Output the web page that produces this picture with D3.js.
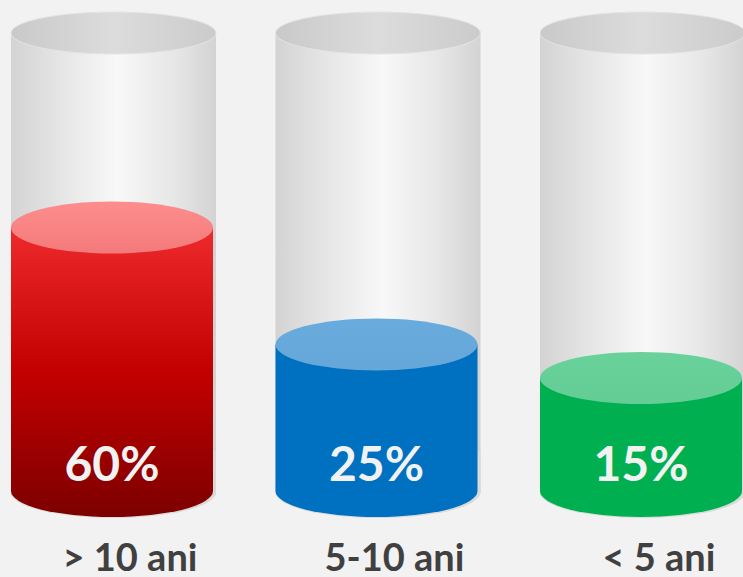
<!DOCTYPE html>
<html><head><meta charset="utf-8">
<script src="https://cdn.jsdelivr.net/npm/d3@7/dist/d3.min.js"></script>
<style>html,body{margin:0;padding:0;background:#f2f2f2;overflow:hidden}</style>
</head><body>
<svg id="c" width="743" height="577"></svg>
<script>
const categories = ["> 10 ani", "5-10 ani", "< 5 ani"];
const values = [60, 25, 15];
const valueLabels = ["60%", "25%", "15%"];
const sideColors = [["#ee2a2c", "#c30000", "#7c0000"], ["#0070c0", "#0070c0", "#0070c0"], ["#00b050", "#00b050", "#00b050"]];
const topColors = [["#fd8d8d", "#f47a7a"], ["#68abdc", "#64a7d8"], ["#69d29b", "#63cd95"]];

const W = 743, H = 577;
const svg = d3.select("#c");
const defs = svg.append("defs");

const x = d3.scalePoint().domain(categories).range([112, 641]);
const y = d3.scaleLinear().domain([0, 100]).range([428, 94]);
const base = 491, frameTop = 33, rx = 101, ryF = 21, ry = 26;

svg.append("rect").attr("width", W).attr("height", H).attr("fill", "#f2f2f2");

// gradients
const gb = defs.append("linearGradient").attr("id", "grayBody").attr("x1", 0).attr("x2", 1).attr("y1", 0).attr("y2", 0);
[[0, "#d3d3d3"], [0.25, "#e6e6e6"], [0.52, "#f8f8f8"], [0.8, "#e6e6e6"], [1, "#d3d3d3"]].forEach(s => gb.append("stop").attr("offset", s[0]).attr("stop-color", s[1]));
const gt = defs.append("linearGradient").attr("id", "grayTop").attr("x1", 0).attr("x2", 1).attr("y1", 0).attr("y2", 0);
[[0, "#c9c9c9"], [0.5, "#dcdcdc"], [1, "#cbcbcb"]].forEach(s => gt.append("stop").attr("offset", s[0]).attr("stop-color", s[1]));

categories.forEach((c, i) => {
  const s = defs.append("linearGradient").attr("id", "side" + i).attr("x1", 0).attr("x2", 0).attr("y1", 0).attr("y2", 1);
  s.append("stop").attr("offset", 0).attr("stop-color", sideColors[i][0]);
  s.append("stop").attr("offset", 0.5).attr("stop-color", sideColors[i][1]);
  s.append("stop").attr("offset", 1).attr("stop-color", sideColors[i][2]);
  const t = defs.append("linearGradient").attr("id", "top" + i).attr("x1", 0).attr("x2", 0).attr("y1", 0).attr("y2", 1);
  t.append("stop").attr("offset", 0).attr("stop-color", topColors[i][0]);
  t.append("stop").attr("offset", 1).attr("stop-color", topColors[i][1]);
});

function bodyPath(cx, r, yTop, yBot, ryy) {
  return `M${cx - r},${yTop} L${cx - r},${yBot} A${r},${ryy} 0 0 0 ${cx + r},${yBot} L${cx + r},${yTop} Z`;
}

const g = svg.selectAll("g.cyl").data(categories).join("g").attr("class", "cyl");

// frame (gray) cylinder
g.append("path")
  .attr("d", (d) => bodyPath(x(d) + 1.5, rx + 1.5, frameTop, base + 1, ry))
  .attr("fill", "url(#grayBody)");
g.append("path")
  .attr("d", (d) => bodyPath(x(d) + 1.5, rx + 1.5, base - 40, base + 1, ry))
  .attr("fill", "#dadada");
g.append("ellipse")
  .attr("cx", d => x(d) + 1.5).attr("cy", frameTop).attr("rx", rx + 1.5).attr("ry", ryF)
  .attr("fill", "url(#grayTop)").attr("stroke", "#e4e4e4").attr("stroke-width", 1);

// filled cylinder
g.append("path")
  .attr("d", (d, i) => bodyPath(x(d), rx, y(values[i]), base, ry))
  .attr("fill", (d, i) => `url(#side${i})`);
g.append("ellipse")
  .attr("cx", d => x(d)).attr("cy", (d, i) => y(values[i])).attr("rx", rx).attr("ry", ry)
  .attr("fill", (d, i) => `url(#top${i})`);

// value labels
g.append("text")
  .attr("x", d => x(d)).attr("y", 481)
  .attr("text-anchor", "middle")
  .attr("font-family", "Lato, 'Open Sans', sans-serif").attr("font-weight", 700)
  .attr("font-size", 48).attr("fill", "#f2f2f2")
  .text((d, i) => valueLabels[i]);

// category labels
g.append("text")
  .attr("x", d => x(d) + 18).attr("y", 571)
  .attr("text-anchor", "middle")
  .attr("font-family", "Lato, 'Open Sans', sans-serif").attr("font-weight", 700)
  .attr("font-size", 38).attr("fill", "#404040")
  .text(d => d);
</script>
</body></html>
